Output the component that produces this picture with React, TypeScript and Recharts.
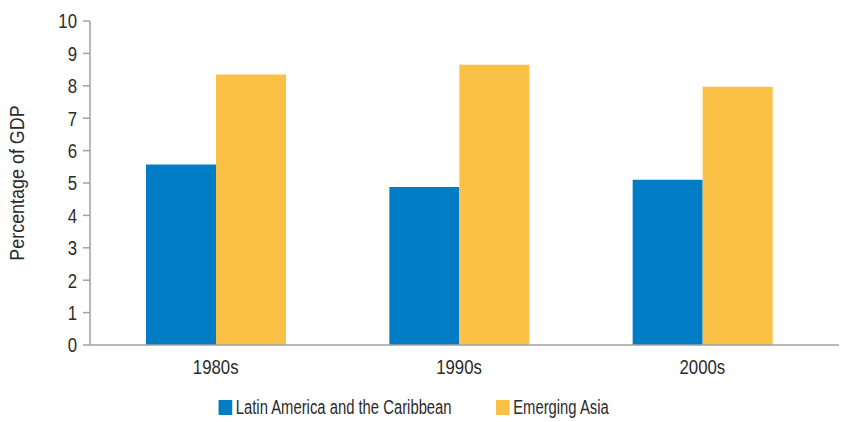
import React from 'react';
import { BarChart, Bar, XAxis, YAxis, Legend } from 'recharts';

const decades = ['1980s', '1990s', '2000s'];
const latinAmerica = [5.57, 4.88, 5.1];
const emergingAsia = [8.35, 8.65, 7.97];
const yTicks = [0, 1, 2, 3, 4, 5, 6, 7, 8, 9, 10];

const BLUE = '#007dc5';
const YELLOW = '#fac146';
const TEXT = '#2b2b2b';
const AXIS = '#a0a0a0';
const FONT = '"Liberation Sans", Arial, sans-serif';
// the original uses a condensed Helvetica, so text is squeezed horizontally
const SQUEEZE = 0.84;

const data = decades.map((d, i) => ({
  decade: d,
  latin: latinAmerica[i],
  asia: emergingAsia[i],
}));

const legendItems = [
  { label: 'Latin America and the Caribbean', color: BLUE },
  { label: 'Emerging Asia', color: YELLOW },
];

const XTick = ({ x, y, payload }: any) => (
  <g transform={`translate(${x},${y})`}>
    <text transform={`scale(${SQUEEZE},1)`} textAnchor="middle" dy="0.71em" fill={TEXT} fontSize={20} fontFamily={FONT}>
      {payload.value}
    </text>
  </g>
);

const YTick = ({ x, y, payload }: any) => (
  <g transform={`translate(${x},${y})`}>
    <text transform="scale(0.8,1)" textAnchor="end" dy="0.355em" fill={TEXT} fontSize={21} fontFamily={FONT}>
      {payload.value}
    </text>
  </g>
);

const YLabel = ({ viewBox }: any) => {
  const cx = viewBox.x + 24;
  const cy = viewBox.y + viewBox.height / 2;
  return (
    <text
      transform={`translate(${cx},${cy}) rotate(-90) scale(0.92,1)`}
      textAnchor="middle"
      fill={TEXT}
      fontSize={19.5}
      fontFamily={FONT}
    >
      Percentage of GDP
    </text>
  );
};

const CustomLegend = () => (
  <div
    style={{
      display: 'flex',
      justifyContent: 'center',
      fontFamily: FONT,
      fontSize: 19.5,
      lineHeight: '24px',
      height: 24,
      color: TEXT,
      transform: 'scaleX(0.76)',
      transformOrigin: 'center',
    }}
  >
    {legendItems.map((item, i) => (
      <div key={item.label} style={{ display: 'flex', alignItems: 'center', marginLeft: i ? 58 : 0 }}>
        <span style={{ width: 18, height: 15, background: item.color, display: 'inline-block', marginRight: 5 }} />
        <span>{item.label}</span>
      </div>
    ))}
  </div>
);

export default function App() {
  return (
    <div style={{ marginTop: -8, marginLeft: -8, background: '#fff', width: 847, height: 422 }}>
      <BarChart
        width={847}
        height={422}
        data={data}
        margin={{ top: 21, right: 1, left: 0, bottom: 0 }}
        barGap={0}
        barSize={70}
      >
        <XAxis
          dataKey="decade"
          height={77}
          tickLine={false}
          tickSize={0}
          tickMargin={15}
          padding={{ left: 4, right: 22 }}
          axisLine={{ stroke: AXIS, strokeWidth: 1.5 }}
          tick={<XTick />}
        />
        <YAxis
          width={90}
          domain={[0, 10]}
          ticks={yTicks}
          interval={0}
          tickSize={7}
          tickMargin={6}
          axisLine={{ stroke: AXIS, strokeWidth: 1.5 }}
          tickLine={{ stroke: AXIS, strokeWidth: 1.5 }}
          tick={<YTick />}
          label={<YLabel />}
        />
        <Legend
          layout="horizontal"
          verticalAlign="middle"
          align="center"
          content={<CustomLegend />}
          wrapperStyle={{ top: 395, left: -10, width: 847, height: 24 }}
        />
        <Bar dataKey="latin" name="Latin America and the Caribbean" fill={BLUE} isAnimationActive={false} />
        <Bar dataKey="asia" name="Emerging Asia" fill={YELLOW} isAnimationActive={false} />
      </BarChart>
    </div>
  );
}
